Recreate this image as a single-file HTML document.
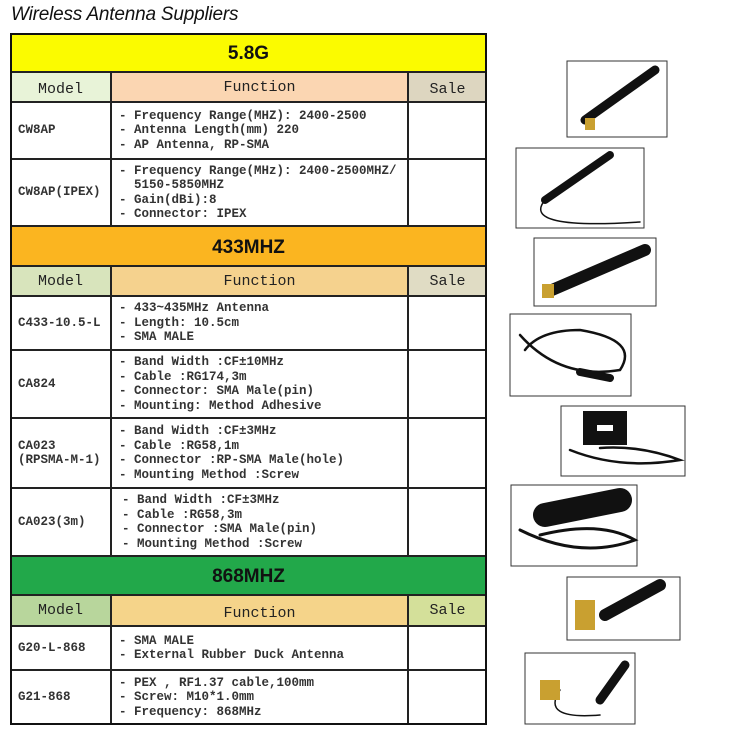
<!DOCTYPE html>
<html><head><style>
body{margin:0;width:750px;height:742px;background:#fff;position:relative;overflow:hidden;font-family:"Liberation Mono","Noto Sans CJK SC",monospace;}
.t{position:absolute;left:11px;top:4px;font:italic 19px "Liberation Sans",sans-serif;color:#111;letter-spacing:-0.2px}
.c{position:absolute;box-sizing:border-box;border:1px solid #222;}
.band{font:bold 19px "Liberation Sans",sans-serif;text-align:center;color:#111;}
.h{font-size:15px;text-align:center;color:#222;}
.m{font-size:12.5px;font-weight:bold;color:#333;padding-left:7px;display:flex;align-items:center;line-height:14.5px}
.f{font-size:12.5px;font-weight:bold;color:#333;padding-left:7px;display:flex;align-items:center;line-height:14.5px;white-space:pre}
#tb{position:absolute;left:10px;top:33px;width:477px;height:692px;border:2px solid #111;box-sizing:border-box;pointer-events:none}
</style></head><body>
<div class="t">Wireless Antenna Suppliers</div>

<div class="c band" style="left:10px;top:33px;width:477px;height:39px;background:#fbfb00;line-height:40px">5.8G</div>
<div class="c h" style="left:10px;top:72px;width:101px;height:30px;background:#e8f3d8;line-height:34px">Model</div>
<div class="c h" style="left:111px;top:72px;width:297px;height:30px;background:#fbd6b2;line-height:30px">Function</div>
<div class="c h" style="left:408px;top:72px;width:79px;height:30px;background:#ddd6c0;line-height:34px">Sale</div>
<div class="c m" style="left:10px;top:102px;width:101px;height:57px">CW8AP</div>
<div class="c f" style="left:111px;top:102px;width:297px;height:57px">- Frequency Range(MHZ): 2400-2500
- Antenna Length(mm) 220
- AP Antenna, RP-SMA</div>
<div class="c" style="left:408px;top:102px;width:79px;height:57px"></div>
<div class="c m" style="left:10px;top:159px;width:101px;height:67px">CW8AP(IPEX)</div>
<div class="c f" style="left:111px;top:159px;width:297px;height:67px">- Frequency Range(MHz): 2400-2500MHZ/
  5150-5850MHZ
- Gain(dBi):8
- Connector: IPEX</div>
<div class="c" style="left:408px;top:159px;width:79px;height:67px"></div>

<div class="c band" style="left:10px;top:226px;width:477px;height:40px;background:#fbb520;line-height:42px">433MHZ</div>
<div class="c h" style="left:10px;top:266px;width:101px;height:30px;background:#d8e4bc;line-height:30px">Model</div>
<div class="c h" style="left:111px;top:266px;width:297px;height:30px;background:#f5d28e;line-height:30px">Function</div>
<div class="c h" style="left:408px;top:266px;width:79px;height:30px;background:#e0dcc4;line-height:30px">Sale</div>
<div class="c m" style="left:10px;top:296px;width:101px;height:54px">C433-10.5-L</div>
<div class="c f" style="left:111px;top:296px;width:297px;height:54px">- 433~435MHz Antenna
- Length: 10.5cm
- SMA MALE</div>
<div class="c" style="left:408px;top:296px;width:79px;height:54px"></div>
<div class="c m" style="left:10px;top:350px;width:101px;height:68px">CA824</div>
<div class="c f" style="left:111px;top:350px;width:297px;height:68px">- Band Width :CF±10MHz
- Cable :RG174,3m
- Connector: SMA Male(pin)
- Mounting: Method Adhesive</div>
<div class="c" style="left:408px;top:350px;width:79px;height:68px"></div>
<div class="c m" style="left:10px;top:418px;width:101px;height:70px">CA023<br>(RPSMA-M-1)</div>
<div class="c f" style="left:111px;top:418px;width:297px;height:70px">- Band Width :CF±3MHz
- Cable :RG58,1m
- Connector :RP-SMA Male(hole)
- Mounting Method :Screw</div>
<div class="c" style="left:408px;top:418px;width:79px;height:70px"></div>
<div class="c m" style="left:10px;top:488px;width:101px;height:68px">CA023(3m)</div>
<div class="c f" style="left:111px;top:488px;width:297px;height:68px;padding-left:10px">- Band Width :CF±3MHz
- Cable :RG58,3m
- Connector :SMA Male(pin)
- Mounting Method :Screw</div>
<div class="c" style="left:408px;top:488px;width:79px;height:68px"></div>

<div class="c band" style="left:10px;top:556px;width:477px;height:39px;background:#22a84a;line-height:40px">868MHZ</div>
<div class="c h" style="left:10px;top:595px;width:101px;height:31px;background:#b8d69c;line-height:30px">Model</div>
<div class="c h" style="left:111px;top:595px;width:297px;height:31px;background:#f5d48a;line-height:36px">Function</div>
<div class="c h" style="left:408px;top:595px;width:79px;height:31px;background:#d4e09a;line-height:30px">Sale</div>
<div class="c m" style="left:10px;top:626px;width:101px;height:44px">G20-L-868</div>
<div class="c f" style="left:111px;top:626px;width:297px;height:44px">- SMA MALE
- External Rubber Duck Antenna</div>
<div class="c" style="left:408px;top:626px;width:79px;height:44px"></div>
<div class="c m" style="left:10px;top:670px;width:101px;height:55px">G21-868</div>
<div class="c f" style="left:111px;top:670px;width:297px;height:55px">- PEX , RF1.37 cable,100mm
- Screw: M10*1.0mm
- Frequency: 868MHz</div>
<div class="c" style="left:408px;top:670px;width:79px;height:55px"></div>
<div id="tb"></div>

<svg style="position:absolute;left:0;top:0" width="750" height="742">
<g fill="#fff" stroke="#333" stroke-width="1">
<rect x="567" y="61" width="100" height="76"/>
<rect x="516" y="148" width="128" height="80"/>
<rect x="534" y="238" width="122" height="68"/>
<rect x="510" y="314" width="121" height="82"/>
<rect x="561" y="406" width="124" height="70"/>
<rect x="511" y="485" width="126" height="81"/>
<rect x="567" y="577" width="113" height="63"/>
<rect x="525" y="653" width="110" height="71"/>
</g>
<g stroke="#111" stroke-linecap="round" fill="none">
<line x1="585" y1="120" x2="655" y2="70" stroke-width="9"/>
<line x1="545" y1="200" x2="610" y2="155" stroke-width="8"/>
<path d="M545 200 Q520 230 640 222" stroke-width="1.5"/>
<line x1="552" y1="290" x2="645" y2="250" stroke-width="12"/>
<path d="M520 335 Q560 380 620 370 Q640 340 580 330 Q540 330 525 350" stroke-width="2.5"/>
<line x1="580" y1="372" x2="610" y2="378" stroke-width="8"/>
<rect x="590" y="418" width="30" height="20" stroke-width="14"/>
<path d="M570 450 Q620 470 680 460 Q640 445 600 448" stroke-width="2.5"/>
<line x1="545" y1="515" x2="620" y2="500" stroke-width="24"/>
<path d="M520 530 Q580 560 635 540 Q600 520 540 535" stroke-width="3"/>
<line x1="605" y1="615" x2="660" y2="585" stroke-width="12"/>
<line x1="600" y1="700" x2="625" y2="665" stroke-width="9"/>
<path d="M560 690 Q540 720 600 715" stroke-width="1.5"/>
</g>
<g fill="#c9a030">
<rect x="585" y="118" width="10" height="12"/>
<rect x="542" y="284" width="12" height="14"/>
<rect x="575" y="600" width="20" height="30"/>
<rect x="540" y="680" width="20" height="20"/>
</g>
</svg>
</body></html>
